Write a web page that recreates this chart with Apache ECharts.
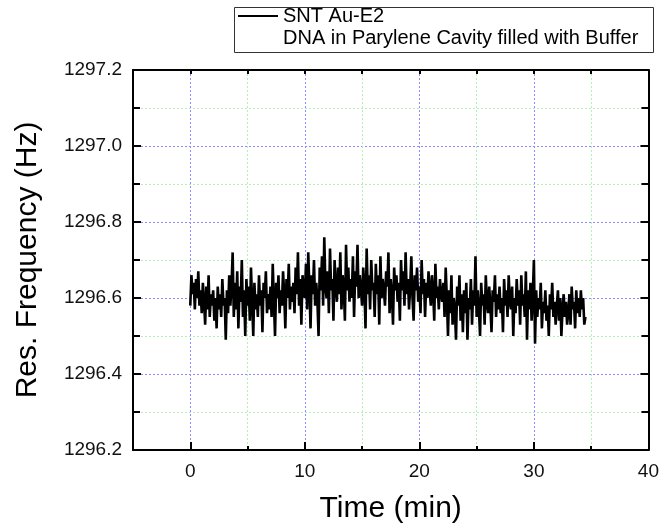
<!DOCTYPE html>
<html>
<head>
<meta charset="utf-8">
<script src="https://cdn.jsdelivr.net/npm/echarts@6/dist/echarts.min.js"></script>
<style>html,body{margin:0;padding:0;background:#fff}#c{width:662px;height:531px}</style>
</head>
<body>
<div id="c"></div>
<script>
// ---- data ----
const seriesName = 'SNT Au-E2';
const legendSubtitle = 'DNA in Parylene Cavity filled with Buffer';
const xTitle = 'Time (min)';
const yTitle = 'Res. Frequency (Hz)';
const xTicks = [0, 10, 20, 30, 40];
const yTicks = [1296.2, 1296.4, 1296.6, 1296.8, 1297.0, 1297.2];
const sampleStepMin = 0.1; // sampling interval of the recording (min)
const freq = [
1296.58,1296.66,1296.61,1296.64,1296.57,1296.65,1296.60,1296.67,1296.58,1296.62,
1296.56,1296.64,1296.59,1296.53,1296.63,1296.57,1296.66,1296.55,1296.61,1296.58,
1296.62,1296.54,1296.60,1296.52,1296.63,1296.57,1296.61,1296.55,1296.65,1296.58,
1296.60,1296.49,1296.62,1296.56,1296.66,1296.58,1296.63,1296.72,1296.55,1296.64,
1296.57,1296.67,1296.52,1296.63,1296.59,1296.70,1296.55,1296.62,1296.50,1296.65,
1296.58,1296.63,1296.54,1296.68,1296.59,1296.50,1296.64,1296.57,1296.61,1296.55,
1296.66,1296.58,1296.62,1296.51,1296.64,1296.60,1296.67,1296.56,1296.61,1296.57,
1296.63,1296.55,1296.69,1296.59,1296.50,1296.64,1296.60,1296.66,1296.56,1296.62,
1296.58,1296.67,1296.61,1296.52,1296.65,1296.60,1296.69,1296.57,1296.63,1296.59,
1296.64,1296.56,1296.68,1296.61,1296.72,1296.58,1296.65,1296.53,1296.66,1296.62,
1296.60,1296.69,1296.57,1296.72,1296.63,1296.52,1296.66,1296.61,1296.70,1296.58,
1296.64,1296.59,1296.50,1296.68,1296.62,1296.71,1296.58,1296.76,1296.63,1296.60,
1296.67,1296.56,1296.73,1296.62,1296.65,1296.54,1296.70,1296.63,1296.59,1296.68,
1296.61,1296.72,1296.57,1296.66,1296.63,1296.54,1296.74,1296.62,1296.68,1296.59,
1296.65,1296.60,1296.71,1296.55,1296.67,1296.63,1296.74,1296.60,1296.66,1296.62,
1296.58,1296.68,1296.63,1296.52,1296.73,1296.61,1296.66,1296.57,1296.70,1296.62,
1296.64,1296.55,1296.69,1296.61,1296.66,1296.53,1296.71,1296.60,1296.65,1296.62,
1296.58,1296.67,1296.63,1296.72,1296.56,1296.65,1296.61,1296.53,1296.68,1296.62,
1296.66,1296.59,1296.64,1296.54,1296.70,1296.62,1296.67,1296.58,1296.72,1296.61,
1296.65,1296.57,1296.63,1296.71,1296.60,1296.54,1296.66,1296.62,1296.68,1296.59,
1296.63,1296.56,1296.70,1296.61,1296.65,1296.55,1296.64,1296.60,1296.67,1296.62,
1296.58,1296.66,1296.62,1296.54,1296.69,1296.60,1296.63,1296.57,1296.65,1296.61,
1296.59,1296.64,1296.55,1296.68,1296.60,1296.50,1296.62,1296.56,1296.66,1296.53,
1296.60,1296.57,1296.49,1296.63,1296.58,1296.66,1296.54,1296.61,1296.51,1296.62,
1296.56,1296.64,1296.49,1296.60,1296.57,1296.65,1296.53,1296.62,1296.58,1296.71,
1296.55,1296.62,1296.57,1296.50,1296.64,1296.58,1296.61,1296.53,1296.66,1296.59,
1296.56,1296.63,1296.58,1296.51,1296.62,1296.59,1296.66,1296.55,1296.61,1296.57,
1296.63,1296.56,1296.60,1296.51,1296.65,1296.58,1296.62,1296.55,1296.66,1296.59,
1296.57,1296.63,1296.50,1296.60,1296.56,1296.65,1296.58,1296.62,1296.53,1296.66,
1296.58,1296.61,1296.55,1296.67,1296.49,1296.62,1296.57,1296.64,1296.54,1296.60,
1296.70,1296.48,1296.62,1296.55,1296.60,1296.57,1296.64,1296.52,1296.59,1296.56,
1296.62,1296.54,1296.58,1296.50,1296.61,1296.57,1296.64,1296.55,1296.59,1296.53,
1296.58,1296.62,1296.54,1296.60,1296.50,1296.57,1296.61,1296.55,1296.59,1296.53,
1296.56,1296.61,1296.53,1296.63,1296.57,1296.59,1296.52,1296.62,1296.56,1296.60,
1296.55,1296.62,1296.57,1296.60,1296.53,1296.55
];
// ---- build chart ----
const points = freq.map((v, i) => [+(i * sampleStepMin).toFixed(3), v]);
const FONT = '"Liberation Sans", Arial, sans-serif';
const BLUE = '#8c8cff', GREEN = '#b4f0b4';
const chart = echarts.init(document.getElementById('c'), null, {renderer: 'canvas'});
const axisLine = {show: true, onZero: false, lineStyle: {color: '#000', width: 2}};
const xMin = -5, xMax = 40;
const yMin = yTicks[0], yMax = yTicks[yTicks.length - 1];
chart.setOption({
  animation: false,
  backgroundColor: '#fff',
  grid: {left: 133, right: 11, top: 70, bottom: 81, containLabel: false},
  legend: {
    data: [seriesName], left: 232, top: 6, padding: [0, 0, 0, 6], itemGap: 0,
    itemWidth: 40, itemHeight: 14, icon: 'path://M0,6 L40,6 L40,8 L0,8 Z',
    textStyle: {fontFamily: FONT, fontSize: 20, color: '#000'}
  },
  graphic: [
    {type: 'rect', left: 232, top: 5, silent: true,
     shape: {width: 419, height: 45}, style: {fill: 'none', stroke: '#333', lineWidth: 1}},
    {type: 'text', left: 283, top: 28,
     style: {text: legendSubtitle, font: '20px ' + FONT, fill: '#000'}}
  ],
  xAxis: [
    { // minor ticks + all grid lines every 5 min
      type: 'value', min: xMin, max: xMax, interval: 5, position: 'bottom',
      axisLine: axisLine,
      axisTick: {show: true, inside: true, length: 4, lineStyle: {color: '#000', width: 2}},
      axisLabel: {show: false},
      splitLine: {show: true, showMinLine: false, showMaxLine: false,
        lineStyle: {type: [2, 2], width: 1, color: [BLUE, GREEN]}}
    },
    { // major ticks and labels
      type: 'value', min: xMin, max: xMax, splitNumber: 5, position: 'bottom',
      name: xTitle, nameLocation: 'middle', nameGap: 44,
      nameTextStyle: {fontFamily: FONT, fontSize: 30, color: '#000'},
      axisLine: {show: false, onZero: false},
      axisTick: {show: true, inside: true, length: 8, lineStyle: {color: '#000', width: 2}},
      axisLabel: {show: true, margin: 12, fontFamily: FONT, fontSize: 19, color: '#111',
        formatter: v => (xTicks.indexOf(v) >= 0 ? String(v) : '')},
      splitLine: {show: false}
    },
    { // top mirror
      type: 'value', min: xMin, max: xMax, interval: 5, position: 'top',
      axisLine: axisLine,
      axisTick: {show: true, inside: true, length: 4, lineStyle: {color: '#000', width: 2}},
      axisLabel: {show: false}, splitLine: {show: false}
    }
  ],
  yAxis: [
    {
      type: 'value', min: yMin, max: yMax, interval: 0.2, position: 'left',
      name: yTitle, nameLocation: 'middle', nameGap: 90,
      nameTextStyle: {fontFamily: FONT, fontSize: 30, color: '#000'},
      axisLine: axisLine,
      axisTick: {show: true, inside: true, length: 8, lineStyle: {color: '#000', width: 2}},
      minorTick: {show: true, splitNumber: 2, length: 7, lineStyle: {color: '#000', width: 2}},
      axisLabel: {show: true, margin: 11, fontFamily: FONT, fontSize: 19, color: '#111',
        formatter: v => v.toFixed(1)},
      splitLine: {show: true, showMinLine: false, showMaxLine: false,
        lineStyle: {type: [2, 2], width: 1, color: BLUE}},
      minorSplitLine: {show: true, lineStyle: {type: [2, 2], width: 1, color: GREEN}}
    },
    {
      type: 'value', min: yMin, max: yMax, interval: 0.2, position: 'right',
      axisLine: axisLine,
      axisTick: {show: true, inside: true, length: 8, lineStyle: {color: '#000', width: 2}},
      minorTick: {show: true, splitNumber: 2, length: 7, lineStyle: {color: '#000', width: 2}},
      axisLabel: {show: false}, splitLine: {show: false}
    }
  ],
  series: [{
    name: seriesName, type: 'line', xAxisIndex: 0, yAxisIndex: 0,
    data: points, showSymbol: false, symbol: 'none',
    lineStyle: {color: '#000', width: 2.6}, itemStyle: {color: '#000'}
  }]
});
</script>
</body>
</html>
